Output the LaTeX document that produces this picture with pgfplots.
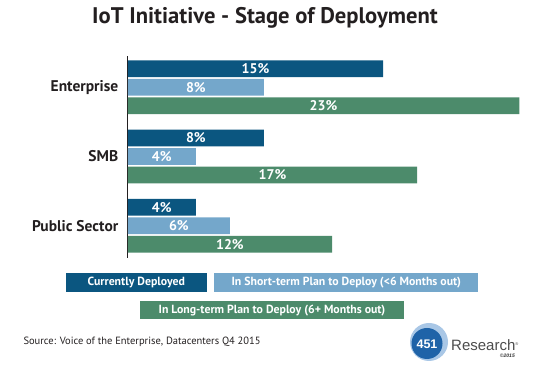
\documentclass[border=0pt]{standalone}
\usepackage{pgfplots}
\pgfplotsset{compat=1.18}
\usepackage{fontspec}
\setmainfont{PT Sans}
\newfontfamily\logofont{Liberation Sans}
\definecolor{dkblue}{HTML}{0B5680}
\definecolor{ltblue}{HTML}{74A7CB}
\definecolor{dkgreen}{HTML}{4C8B6B}
\definecolor{txtgray}{HTML}{231F20}
\definecolor{logoblue}{HTML}{1F63A8}
\definecolor{logoring}{HTML}{6FA2D6}
\begin{document}
\begin{tikzpicture}[x=1pt,y=1pt]
\path (0,0) rectangle (536,366);
\node[anchor=center,text=txtgray,font=\fontsize{22.6}{26}\selectfont\bfseries] at (265,348) {IoT Initiative - Stage of Deployment};
\begin{axis}[
  at={(127.8pt,108pt)}, anchor=south west,
  scale only axis, width=391.5pt, height=202pt,
  xmin=0, xmax=23, ymin=-0.467, ymax=2.452,
  axis x line=none,
  axis y line=left,
  y axis line style={-, line width=1.2pt, color=txtgray},
  ytick={0,1,2},
  yticklabels={Public Sector,SMB,Enterprise},
  major tick length=0pt,
  /pgf/number format/assume math mode=true,
  yticklabel style={font=\fontsize{15.5}{17}\selectfont\bfseries, text=txtgray, xshift=-6pt},
  xbar, bar width=16.7pt,
  nodes near coords={\pgfmathprintnumber{\pgfplotspointmeta}\%},
  point meta=x,
  visualization depends on=rawx \as \rawx,
  every node near coord/.append style={anchor=center, text=white,
     font=\fontsize{14}{16}\selectfont\bfseries,
     shift={(axis direction cs:-\rawx/2,0)}},
]
\addplot[fill=dkblue, draw=none, bar shift=18.5pt] coordinates {(15,2) (8,1) (4,0)};
\addplot[fill=ltblue, draw=none, bar shift=0pt] coordinates {(8,2) (4,1) (6,0)};
\addplot[fill=dkgreen, draw=none, bar shift=-18.5pt] coordinates {(23,2) (17,1) (12,0)};
\end{axis}
% legend
\node[fill=dkblue, minimum width=140.7pt, minimum height=19pt, inner sep=0pt, text=white, font=\fontsize{11.8}{13}\selectfont\bfseries] at (136.3,83.2) {Currently Deployed};
\node[fill=ltblue, minimum width=264pt, minimum height=19pt, inner sep=0pt, text=white, font=\fontsize{11.8}{13}\selectfont\bfseries] at (346.3,83.2) {In Short-term Plan to Deploy (<6 Months out)};
\node[fill=dkgreen, minimum width=264pt, minimum height=18.3pt, inner sep=0pt, text=white, font=\fontsize{11.8}{13}\selectfont\bfseries] at (272,55.8) {In Long-term Plan to Deploy (6+ Months out)};
% source
\node[anchor=base west, inner sep=0pt, text=txtgray, font=\fontsize{10.5}{12}\selectfont] at (23.3,21) {Source: Voice of the Enterprise, Datacenters Q4 2015};
% logo
\fill[logoring, opacity=0.6] (429,24) circle (19);
\fill[logoblue] (427,22.5) circle (15.5);
\node[text=white, font=\logofont\fontsize{12.5}{14}\selectfont\bfseries] at (427,21.5) {451};
\node[anchor=west, inner sep=0pt, text=black!70, font=\logofont\fontsize{15}{17}\selectfont] at (451,20.5) {Research\raisebox{5pt}{\fontsize{4}{4}\selectfont\textregistered}};
\node[anchor=east, inner sep=0pt, text=black!80, font=\logofont\fontsize{5}{6}\selectfont\bfseries\itshape] at (515,10) {\textcopyright2015};
\end{tikzpicture}
\end{document}
